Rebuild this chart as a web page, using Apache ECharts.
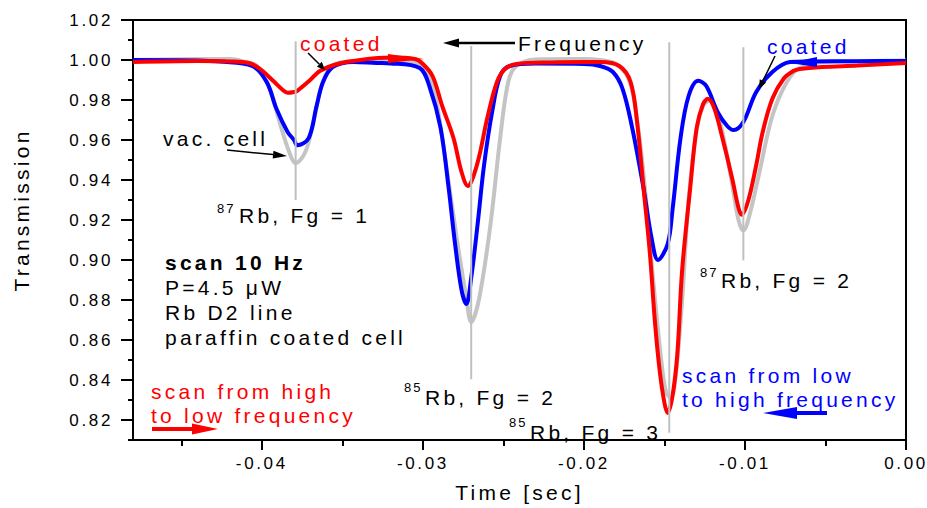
<!DOCTYPE html>
<html>
<head>
<meta charset="UTF-8">
<title>Rb D2 transmission, coated cell</title>
<style>
  html, body { margin: 0; padding: 0; background: #fff; }
  #main { width: 927px; height: 508px; }
  /* the original lettering is spaced out */
  #main text { letter-spacing: 0.155em; }
</style>
</head>
<body>
<div id="main"></div>
<script src="https://cdn.jsdelivr.net/npm/echarts@6/dist/echarts.min.js"></script>
<script>
// time [sec] and transmission of each trace
var grayT = [-0.0480, -0.0440, -0.0420, -0.0410, -0.0403, -0.0395, -0.0389, -0.0383, -0.0379, -0.0373, -0.0368, -0.0363, -0.0358, -0.0350, -0.0330, -0.0305, -0.0298, -0.0293, -0.0288, -0.0279, -0.0273, -0.0270, -0.0265, -0.0258, -0.0252, -0.0247, -0.0242, -0.0230, -0.0200, -0.0190, -0.0180, -0.0172, -0.0167, -0.0162, -0.0157, -0.0152, -0.0149, -0.0146, -0.0143, -0.0139, -0.0135, -0.0130, -0.0126, -0.0122, -0.0118, -0.0113, -0.0108, -0.0104, -0.0101, -0.0097, -0.0091, -0.0083, -0.0074, -0.0066, -0.0050, -0.0020, 0.0000];
var grayV = [1.0000, 1.0005, 1.0005, 0.9990, 0.9970, 0.9856, 0.9690, 0.9540, 0.9484, 0.9540, 0.9690, 0.9870, 0.9955, 0.9990, 0.9995, 0.9990, 0.9950, 0.9850, 0.9610, 0.9110, 0.8810, 0.8690, 0.8810, 0.9180, 0.9610, 0.9890, 0.9970, 1.0003, 1.0005, 1.0000, 0.9980, 0.9900, 0.9700, 0.9350, 0.8900, 0.8500, 0.8340, 0.8310, 0.8420, 0.8800, 0.9300, 0.9650, 0.9770, 0.9796, 0.9760, 0.9600, 0.9380, 0.9200, 0.9147, 0.9230, 0.9440, 0.9720, 0.9890, 0.9960, 0.9990, 0.9995, 0.9998];

var blueT = [-0.0480, -0.0440, -0.0426, -0.0406, -0.0397, -0.0391, -0.0384, -0.0380, -0.0378, -0.0371, -0.0366, -0.0362, -0.0356, -0.0343, -0.0329, -0.0320, -0.0302, -0.0296, -0.0289, -0.0284, -0.0280, -0.0276, -0.0273, -0.0270, -0.0266, -0.0262, -0.0257, -0.0252, -0.0246, -0.0230, -0.0200, -0.0190, -0.0182, -0.0176, -0.0170, -0.0163, -0.0158, -0.0154, -0.0148, -0.0145, -0.0140, -0.0135, -0.0129, -0.0124, -0.0117, -0.0111, -0.0107, -0.0101, -0.0093, -0.0083, -0.0072, -0.0061, -0.0030, 0.0000];
var blueV = [1.0000, 0.9998, 0.9992, 0.9970, 0.9890, 0.9757, 0.9640, 0.9600, 0.9574, 0.9608, 0.9770, 0.9890, 0.9965, 0.9990, 0.9985, 0.9983, 0.9960, 0.9870, 0.9660, 0.9360, 0.9080, 0.8850, 0.8780, 0.8910, 0.9180, 0.9475, 0.9740, 0.9920, 0.9970, 0.9982, 0.9980, 0.9970, 0.9940, 0.9856, 0.9660, 0.9360, 0.9110, 0.9000, 0.9080, 0.9250, 0.9610, 0.9820, 0.9896, 0.9870, 0.9740, 0.9670, 0.9650, 0.9690, 0.9840, 0.9940, 0.9990, 0.9993, 0.9994, 0.9995];

var redT = [-0.0480, -0.0440, -0.0420, -0.0408, -0.0401, -0.0393, -0.0387, -0.0384, -0.0380, -0.0378, -0.0370, -0.0364, -0.0353, -0.0339, -0.0320, -0.0305, -0.0300, -0.0294, -0.0288, -0.0281, -0.0276, -0.0272, -0.0269, -0.0265, -0.0260, -0.0254, -0.0249, -0.0242, -0.0220, -0.0200, -0.0190, -0.0178, -0.0171, -0.0167, -0.0163, -0.0159, -0.0156, -0.0153, -0.0150, -0.0148, -0.0145, -0.0142, -0.0139, -0.0134, -0.0130, -0.0126, -0.0123, -0.0119, -0.0114, -0.0108, -0.0104, -0.0102, -0.0098, -0.0093, -0.0089, -0.0083, -0.0076, -0.0070, -0.0066, -0.0052, -0.0030, 0.0000];
var redV = [0.9990, 0.9995, 0.9993, 0.9985, 0.9955, 0.9896, 0.9850, 0.9836, 0.9840, 0.9846, 0.9900, 0.9945, 0.9980, 1.0000, 1.0012, 1.0005, 0.9980, 0.9920, 0.9770, 0.9610, 0.9440, 0.9370, 0.9410, 0.9520, 0.9710, 0.9890, 0.9955, 0.9980, 0.9988, 0.9990, 0.9990, 0.9970, 0.9890, 0.9690, 0.9360, 0.9030, 0.8700, 0.8450, 0.8285, 0.8235, 0.8320, 0.8530, 0.8950, 0.9360, 0.9660, 0.9780, 0.9806, 0.9757, 0.9610, 0.9410, 0.9260, 0.9226, 0.9296, 0.9475, 0.9640, 0.9806, 0.9906, 0.9945, 0.9955, 0.9965, 0.9972, 0.9985];

// grey lines marking the hyperfine lines
var markerT = [-0.0379, -0.0270, -0.0147, -0.0101];
var markerTop = [1.0094, 1.0070, 1.0089, 1.0064];
var markerBottom = [0.9300, 0.8404, 0.8136, 0.8998];

// axis ticks
var xMajor = [-0.04, -0.03, -0.02, -0.01, 0.00];
var xMinor = [-0.045, -0.035, -0.025, -0.015, -0.005];
var yMajor = [0.82, 0.84, 0.86, 0.88, 0.90, 0.92, 0.94, 0.96, 0.98, 1.00, 1.02];
var yMinor = [0.81, 0.83, 0.85, 0.87, 0.89, 0.91, 0.93, 0.95, 0.97, 0.99, 1.01];

var FONT = '"Liberation Sans", Arial, sans-serif';

function pairs(t, v) {
  return t.map(function (x, i) { return [x, v[i]]; });
}

function txt(x, y, s, color, size, bold) {
  return {
    type: 'text', x: x, y: y, z: 100,
    style: {
      text: s, fill: color,
      font: (bold ? 'bold ' : '') + size + 'px ' + FONT,
      align: 'left', verticalAlign: 'middle',
      textAlign: 'left', textVerticalAlign: 'middle'
    }
  };
}

function arrow(x1, y1, x2, y2, color, w, hl, hw) {
  var a = Math.atan2(y2 - y1, x2 - x1), c = Math.cos(a), s = Math.sin(a);
  var bx = x2 - hl * c, by = y2 - hl * s;
  return [
    { type: 'line', z: 100, shape: { x1: x1, y1: y1, x2: bx, y2: by }, style: { stroke: color, lineWidth: w } },
    { type: 'polygon', z: 100, shape: { points: [[x2, y2], [bx - hw * s, by + hw * c], [bx + hw * s, by - hw * c]] }, style: { fill: color } }
  ];
}

var chart = echarts.init(document.getElementById('main'), null, { renderer: 'svg' });

var series = [
  { name: 'vac. cell', type: 'line', data: pairs(grayT, grayV), smooth: 0.35, symbol: 'none',
    lineStyle: { color: '#c4c4c4', width: 4 }, z: 2 },
  { name: 'coated, low to high', type: 'line', data: pairs(blueT, blueV), smooth: 0.35, symbol: 'none',
    lineStyle: { color: '#0000ff', width: 4 }, z: 3 },
  { name: 'coated, high to low', type: 'line', data: pairs(redT, redV), smooth: 0.35, symbol: 'none',
    lineStyle: { color: '#ff0000', width: 4 }, z: 4 }
];
for (var i = 0; i < markerT.length; i++) {
  series.push({
    type: 'line', symbol: 'none', z: 5, silent: true,
    data: [[markerT[i], markerTop[i]], [markerT[i], markerBottom[i]]],
    lineStyle: { color: '#c0c0c0', width: 2 }
  });
}

var graphics = [
  {
    type: 'text', x: 21, y: 210, rotation: Math.PI / 2, z: 100,
    style: { text: 'Transmission', fill: '#000', font: '21px ' + FONT,
      align: 'center', verticalAlign: 'middle', textAlign: 'center', textVerticalAlign: 'middle' }
  },
  txt(300, 43, 'coated', '#ff0000', 21),
  txt(518, 43, 'Frequency', '#000', 21),
  txt(767, 46, 'coated', '#0000ff', 21),
  txt(163, 138, 'vac. cell', '#000', 21),
  txt(217, 208, '87', '#000', 13),
  txt(239, 215, 'Rb, Fg = 1', '#000', 21),
  txt(165, 262, 'scan 10 Hz', '#000', 21, true),
  txt(165, 287, 'P=4.5 \u03bcW', '#000', 21),
  txt(165, 312, 'Rb D2 line', '#000', 21),
  txt(165, 337, 'paraffin coated cell', '#000', 21),
  txt(151, 391, 'scan from high', '#ff0000', 21),
  txt(151, 415, 'to low frequency', '#ff0000', 21),
  txt(404, 387, '85', '#000', 13),
  txt(425, 397, 'Rb, Fg = 2', '#000', 21),
  txt(509, 422, '85', '#000', 13),
  txt(530, 432, 'Rb, Fg = 3', '#000', 21),
  txt(700, 272, '87', '#000', 13),
  txt(721, 280, 'Rb, Fg = 2', '#000', 21),
  txt(682, 375, 'scan from low', '#0000ff', 21),
  txt(682, 399, 'to high frequency', '#0000ff', 21),
  // direction wedges riding on the traces
  { type: 'polygon', z: 101, shape: { points: [[388, 54], [424, 59], [388, 63]] }, style: { fill: '#ff0000' } },
  { type: 'polygon', z: 101, shape: { points: [[817, 57], [789, 63], [817, 67]] }, style: { fill: '#0000ff' } }
]
  .concat(arrow(308, 53, 325, 70, '#000', 1.5, 8, 3.5))
  .concat(arrow(775, 56, 759, 89, '#000', 1.5, 9, 3.5))
  .concat(arrow(227, 150, 287, 156, '#000', 1.5, 14, 4))
  .concat(arrow(515, 43, 443, 43, '#000', 2.5, 16, 4.5))
  .concat(arrow(152, 429, 218, 429, '#ff0000', 4, 26, 5.5))
  .concat(arrow(827, 413, 763, 413, '#0000ff', 4, 34, 6));

var option = {
  animation: false,
  backgroundColor: '#fff',
  textStyle: { fontFamily: FONT, color: '#000' },
  grid: { left: 133, top: 20, right: 21, bottom: 64, show: true, borderColor: '#000', borderWidth: 2 },
  xAxis: [{
    type: 'value', min: -0.048, max: 0, position: 'bottom',
    name: 'Time [sec]', nameLocation: 'middle', nameGap: 42,
    nameTextStyle: { fontSize: 21, color: '#000', fontFamily: FONT },
    axisLine: { onZero: false, lineStyle: { color: '#000', width: 2 } },
    axisTick: { show: true, inside: false, length: 10, lineStyle: { color: '#000', width: 2 }, customValues: xMajor },
    axisLabel: { customValues: xMajor, margin: 15, fontSize: 17, color: '#000', fontFamily: FONT,
      formatter: function (v) { return v.toFixed(2); } },
    splitLine: { show: false }
  }, {
    type: 'value', min: -0.048, max: 0, position: 'bottom',
    axisLine: { show: false, onZero: false },
    axisTick: { show: true, length: 6, lineStyle: { color: '#000', width: 2 }, customValues: xMinor },
    axisLabel: { show: false },
    splitLine: { show: false }
  }],
  yAxis: [{
    type: 'value', min: 0.81, max: 1.02, position: 'left',
    axisLine: { show: true, onZero: false, lineStyle: { color: '#000', width: 2 } },
    axisTick: { show: true, length: 12, lineStyle: { color: '#000', width: 2 }, customValues: yMajor },
    axisLabel: { customValues: yMajor, margin: 20,
      fontSize: 17, color: '#000', fontFamily: FONT,
      formatter: function (v) { return v.toFixed(2); } },
    splitLine: { show: false }
  }, {
    type: 'value', min: 0.81, max: 1.02, position: 'left',
    axisLine: { show: false, onZero: false },
    axisTick: { show: true, length: 5, lineStyle: { color: '#000', width: 2 }, customValues: yMinor },
    axisLabel: { show: false },
    splitLine: { show: false }
  }],
  series: series,
  graphic: graphics
};

chart.setOption(option);
</script>
</body>
</html>
